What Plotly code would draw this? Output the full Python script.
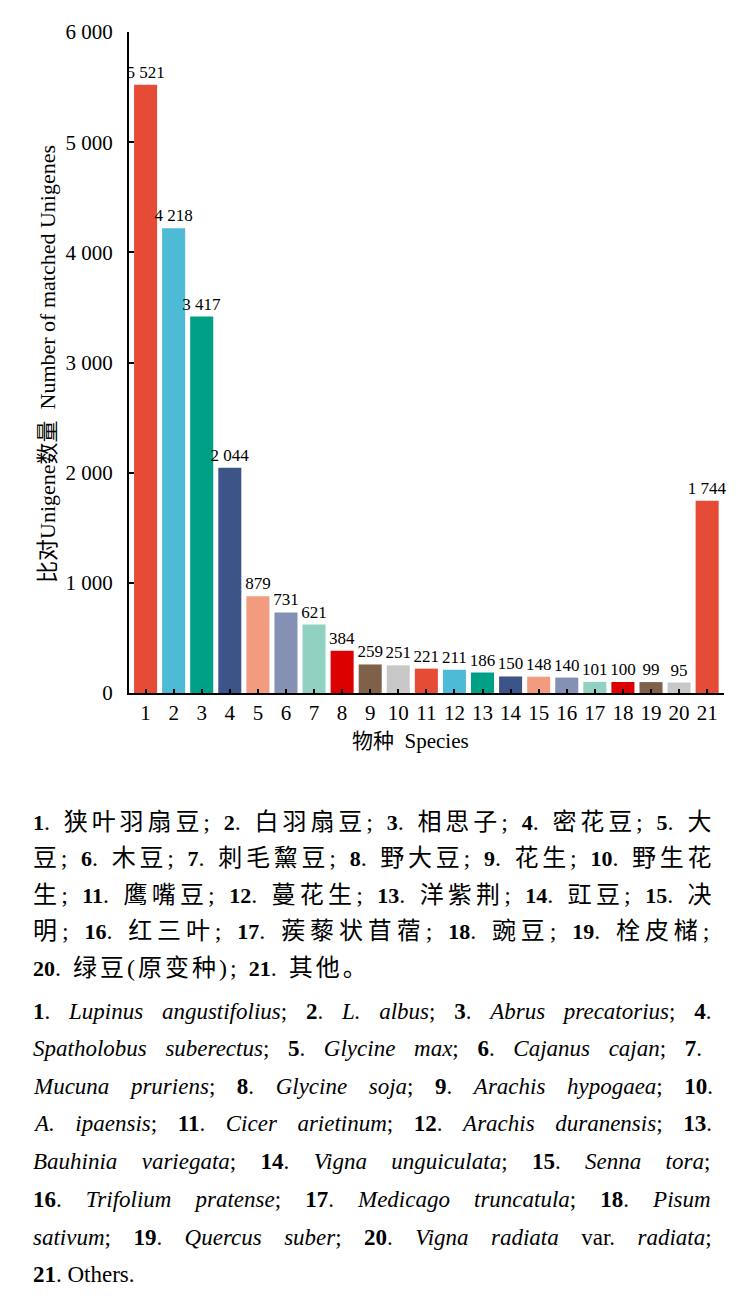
import plotly.graph_objects as go

species_ids = list(range(1, 22))
tick_labels = [str(i) for i in species_ids]
unigene_counts = [5521, 4218, 3417, 2044, 879, 731, 621, 384, 259, 251,
                  221, 211, 186, 150, 148, 140, 101, 100, 99, 95, 1744]
bar_colors = ['#E64B35', '#4DBBD5', '#00A087', '#3C5488', '#F39B7F', '#8491B4',
              '#91D1C2', '#DC0000', '#7E6148', '#C8C8C8',
              '#E64B35', '#4DBBD5', '#00A087', '#3C5488', '#F39B7F', '#8491B4',
              '#91D1C2', '#DC0000', '#7E6148', '#C8C8C8', '#E64B35']


def n(k):
    # bold serial number in the chinese caption, a bit smaller than the hanzi
    return f'<span style="font-size:22px;font-weight:bold;letter-spacing:0px">{k}</span>'


caption_cn = [
    f"{n(1)}. 狭叶羽扇豆; {n(2)}. 白羽扇豆; {n(3)}. 相思子; {n(4)}. 密花豆; {n(5)}. 大",
    f"豆; {n(6)}. 木豆; {n(7)}. 刺毛黧豆; {n(8)}. 野大豆; {n(9)}. 花生; {n(10)}. 野生花",
    f"生; {n(11)}. 鹰嘴豆; {n(12)}. 蔓花生; {n(13)}. 洋紫荆; {n(14)}. 豇豆; {n(15)}. 决",
    f"明; {n(16)}. 红三叶; {n(17)}. 蒺藜状苜蓿; {n(18)}. 豌豆; {n(19)}. 栓皮槠;",
    f"{n(20)}. 绿豆(原变种); {n(21)}. 其他。",
]
caption_en = [
    "<b>1</b>. <i>Lupinus angustifolius</i>; <b>2</b>. <i>L. albus</i>; <b>3</b>. <i>Abrus precatorius</i>; <b>4</b>.",
    "<i>Spatholobus suberectus</i>; <b>5</b>. <i>Glycine max</i>; <b>6</b>. <i>Cajanus cajan</i>; <b>7</b>.",
    "<i>Mucuna pruriens</i>; <b>8</b>. <i>Glycine soja</i>; <b>9</b>. <i>Arachis hypogaea</i>; <b>10</b>.",
    "<i>A. ipaensis</i>; <b>11</b>. <i>Cicer arietinum</i>; <b>12</b>. <i>Arachis duranensis</i>; <b>13</b>.",
    "<i>Bauhinia variegata</i>; <b>14</b>. <i>Vigna unguiculata</i>; <b>15</b>. <i>Senna tora</i>;",
    "<b>16</b>. <i>Trifolium pratense</i>; <b>17</b>. <i>Medicago truncatula</i>; <b>18</b>. <i>Pisum</i>",
    "<i>sativum</i>; <b>19</b>. <i>Quercus suber</i>; <b>20</b>. <i>Vigna radiata</i> var. <i>radiata</i>;",
    "<b>21</b>. Others.",
]
# spacing per caption line so it reaches the right edge, last lines ragged
cn_letter_spacing = [3.9, 3.8, 4.2, 4.9, 3.0]
en_word_spacing = [13, 12.9, 15.8, 14.8, 18.6, 18.3, 16.7, 0]

SERIF = "Liberation Serif, Noto Sans CJK SC, serif"

OFF = 8  # page body margin
W, H = 748 - OFF, 1302 - OFF
# plot area in figure pixels
L, R, T, B = 129 - OFF, 724 - OFF, 30 - OFF, 693 - OFF


def px(x):
    # screen x -> paper
    return (x - OFF - L) / (R - L)


def py(y):
    return (B - (y - OFF)) / (B - T)


fig = go.Figure()
fig.add_trace(go.Bar(
    x=species_ids, y=unigene_counts,
    marker=dict(color=bar_colors, line=dict(width=0)),
    texttemplate="%{y:,}", textposition="outside", constraintext="none",
    textfont=dict(family=SERIF, size=17, color="black"),
    cliponaxis=False, width=0.82,
))

annotations = [
    dict(text="物种  Species", x=px(410), y=py(741), xref="paper", yref="paper",
         xanchor="center", yanchor="middle", showarrow=False,
         font=dict(family=SERIF, size=21, color="black")),
    dict(text="比对Unigene数量  Number of matched Unigenes", x=px(48), y=py(363),
         xref="paper", yref="paper", xanchor="center", yanchor="middle",
         textangle=-90, showarrow=False,
         font=dict(family=SERIF, size=22, color="black")),
]
cn_y = [822, 859, 896, 932, 969]
for line, ls, yy in zip(caption_cn, cn_letter_spacing, cn_y):
    annotations.append(dict(
        text=f'<span style="letter-spacing:{ls}px">{line}</span>',
        x=px(31), y=py(yy), xref="paper", yref="paper", xanchor="left", yanchor="middle",
        showarrow=False, font=dict(family=SERIF, size=24, color="black")))
en_y = [1012, 1050, 1088, 1125, 1163, 1201, 1239, 1276]
for line, ws, yy in zip(caption_en, en_word_spacing, en_y):
    annotations.append(dict(
        text=f'<span style="word-spacing:{ws}px">{line}</span>',
        x=px(31), y=py(yy), xref="paper", yref="paper", xanchor="left", yanchor="middle",
        showarrow=False, font=dict(family=SERIF, size=23, color="black")))

fig.update_layout(
    width=W, height=H,
    margin=dict(l=L, r=W - R, t=T, b=H - B, pad=0),
    plot_bgcolor="white", paper_bgcolor="white",
    separators=". ",
    showlegend=False,
    annotations=annotations,
    font=dict(family=SERIF, color="black"),
)
fig.update_xaxes(
    range=[0.41, 21.6], tickmode="array", tickvals=species_ids, ticktext=tick_labels,
    ticks="inside", ticklen=4, tickwidth=1.5, tickcolor="black",
    showline=True, linecolor="black", linewidth=2, showgrid=False, zeroline=False,
    tickfont=dict(family=SERIF, size=21, color="black"), ticklabelstandoff=0,
)
fig.update_yaxes(
    range=[0, 6000], dtick=1000, tickformat=",",
    ticks="inside", ticklen=5, tickwidth=1.5, tickcolor="black",
    showline=True, linecolor="black", linewidth=2, showgrid=False, zeroline=False,
    tickfont=dict(family=SERIF, size=21, color="black"), ticklabelstandoff=10,
)

fig.write_html("out.html")
